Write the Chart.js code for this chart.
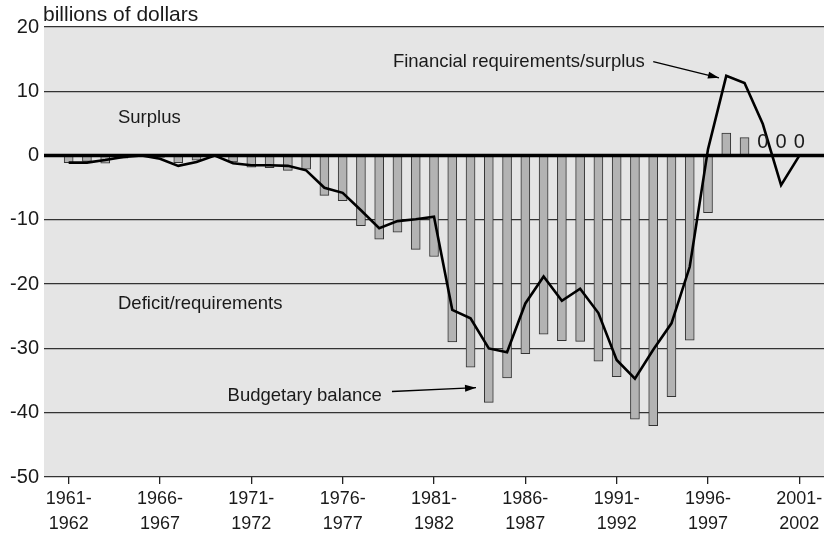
<!DOCTYPE html>
<html lang="en">
<head>
    <meta charset="UTF-8">
    <title>Budgetary balance and financial requirements</title>
    <style>
        html, body { margin: 0; padding: 0; background: #fff; }
        .chart-container { width: 827px; height: 534px; }
    </style>
    <script src="https://cdn.jsdelivr.net/npm/chart.js"></script>
</head>
<body>
    <div class="chart-container">
        <canvas id="balanceChart" width="827" height="534"></canvas>
    </div>

    <script>
        // fiscal years (categories)
        const fiscalYears = [
            '1961-1962', '1962-1963', '1963-1964', '1964-1965', '1965-1966',
            '1966-1967', '1967-1968', '1968-1969', '1969-1970', '1970-1971',
            '1971-1972', '1972-1973', '1973-1974', '1974-1975', '1975-1976',
            '1976-1977', '1977-1978', '1978-1979', '1979-1980', '1980-1981',
            '1981-1982', '1982-1983', '1983-1984', '1984-1985', '1985-1986',
            '1986-1987', '1987-1988', '1988-1989', '1989-1990', '1990-1991',
            '1991-1992', '1992-1993', '1993-1994', '1994-1995', '1995-1996',
            '1996-1997', '1997-1998', '1998-1999', '1999-2000', '2000-2001',
            '2001-2002'
        ];

        // bars: budgetary balance, billions of dollars
        const budgetaryBalance = [
            -1.1, -0.9, -1.2, -0.4, -0.1, -0.3, -1.1, -0.7, 0, -1.0,
            -1.8, -1.9, -2.3, -2.1, -6.2, -7.0, -10.9, -13.0, -11.9, -14.6,
            -15.7, -29.0, -32.9, -38.4, -34.6, -30.8, -27.8, -28.8, -28.9, -32.0,
            -34.4, -41.0, -42.0, -37.5, -28.7, -8.9, 3.5, 2.8, 0, 0,
            0
        ];

        // line: financial requirements/surplus
        const financialRequirements = [
            -1.1, -1.1, -0.7, -0.2, 0, -0.5, -1.6, -1.0, 0, -1.2,
            -1.5, -1.5, -1.6, -2.3, -5.0, -5.8, -8.5, -11.3, -10.2, -9.9,
            -9.5, -24.0, -25.3, -30.0, -30.6, -23.0, -18.8, -22.6, -20.7, -24.5,
            -31.8, -34.7, -30.2, -26.1, -17.3, 1.0, 12.4, 11.3, 4.9, -4.6,
            0
        ];

        // projected years whose bar value is written out
        const labelledYears = ['1999-2000', '2000-2001', '2001-2002'];

        const tickYears = ['1961-1962', '1966-1967', '1971-1972', '1976-1977', '1981-1982',
                           '1986-1987', '1991-1992', '1996-1997', '2001-2002'];
        const yTicks = [20, 10, 0, -10, -20, -30, -40, -50];

        const fontFamily = "'Liberation Sans', Arial, Helvetica, sans-serif";
        Chart.defaults.font.family = fontFamily;
        Chart.defaults.color = '#1a1a1a';

        // text notes placed in data units
        const notes = [
            { text: 'Surplus', x: 2.7, y: 5.9 },
            { text: 'Deficit/requirements', x: 2.7, y: -23.0 },
            { text: 'Budgetary balance', x: 8.7, y: -37.4, from: [17.7, -36.7], to: [22.3, -36.1] },
            { text: 'Financial requirements/surplus', x: 17.75, y: 14.5, from: [32.0, 14.6], to: [35.6, 12.1] }
        ];

        function drawArrow(ctx, x1, y1, x2, y2) {
            ctx.beginPath();
            ctx.moveTo(x1, y1);
            ctx.lineTo(x2, y2);
            ctx.stroke();
            const a = Math.atan2(y2 - y1, x2 - x1);
            const len = 11, w = 3.5;
            ctx.beginPath();
            ctx.moveTo(x2, y2);
            ctx.lineTo(x2 - len * Math.cos(a) + w * Math.sin(a), y2 - len * Math.sin(a) - w * Math.cos(a));
            ctx.lineTo(x2 - len * Math.cos(a) - w * Math.sin(a), y2 - len * Math.sin(a) + w * Math.cos(a));
            ctx.closePath();
            ctx.fill();
        }

        const plotBackground = {
            id: 'plotBackground',
            beforeDraw(chart) {
                const { ctx, chartArea: a } = chart;
                ctx.save();
                ctx.fillStyle = '#e5e5e5';
                ctx.fillRect(a.left, a.top, a.right - a.left, a.bottom - a.top);
                ctx.restore();
            }
        };

        const overlay = {
            id: 'overlay',
            afterDatasetsDraw(chart) {
                const { ctx, chartArea: a, scales: { x, y } } = chart;
                ctx.save();

                // heavy zero line
                const y0 = y.getPixelForValue(0);
                ctx.strokeStyle = '#000';
                ctx.lineWidth = 3.5;
                ctx.beginPath();
                ctx.moveTo(a.left, y0);
                ctx.lineTo(a.right, y0);
                ctx.stroke();

                // "0" labels for projected years
                ctx.fillStyle = '#1a1a1a';
                ctx.font = '20px ' + fontFamily;
                ctx.textAlign = 'center';
                ctx.textBaseline = 'bottom';
                labelledYears.forEach(yr => {
                    const i = fiscalYears.indexOf(yr);
                    ctx.fillText(String(budgetaryBalance[i]), x.getPixelForValue(i), y0 - 3);
                });

                // unit title
                ctx.font = '21px ' + fontFamily;
                ctx.textAlign = 'left';
                ctx.textBaseline = 'alphabetic';
                ctx.fillText('billions of dollars', a.left - 1, a.top - 6);

                // notes and arrows
                ctx.font = '18.5px ' + fontFamily;
                ctx.textBaseline = 'middle';
                ctx.strokeStyle = '#000';
                ctx.lineWidth = 1.3;
                notes.forEach(n => {
                    ctx.fillStyle = '#1a1a1a';
                    ctx.fillText(n.text, x.getPixelForValue(n.x), y.getPixelForValue(n.y));
                    if (n.from) {
                        ctx.fillStyle = '#000';
                        drawArrow(ctx,
                            x.getPixelForValue(n.from[0]), y.getPixelForValue(n.from[1]),
                            x.getPixelForValue(n.to[0]), y.getPixelForValue(n.to[1]));
                    }
                });
                ctx.restore();
            }
        };

        const ctx = document.getElementById('balanceChart').getContext('2d');
        new Chart(ctx, {
            type: 'bar',
            data: {
                datasets: [
                    {
                        type: 'line',
                        label: 'Financial requirements/surplus',
                        data: financialRequirements.map((v, i) => ({ x: i, y: v })),
                        borderColor: '#000',
                        borderWidth: 2.6,
                        pointRadius: 0,
                        tension: 0,
                        order: 0
                    },
                    {
                        type: 'bar',
                        label: 'Budgetary balance',
                        data: budgetaryBalance.map((v, i) => ({ x: i, y: v })),
                        backgroundColor: '#b3b3b3',
                        borderColor: '#333',
                        borderWidth: 1,
                        barThickness: 9,
                        order: 1
                    }
                ]
            },
            options: {
                responsive: false,
                animation: false,
                layout: { padding: { top: 27, right: 3, left: 0, bottom: 0 } },
                plugins: {
                    legend: { display: false },
                    tooltip: { enabled: false }
                },
                scales: {
                    x: {
                        type: 'linear',
                        offset: false,
                        min: -1.35,
                        max: 41.35,
                        afterFit: s => { s.height = 57; },
                        afterBuildTicks: s => {
                            s.ticks = tickYears.map(t => ({ value: fiscalYears.indexOf(t) }));
                        },
                        ticks: {
                            autoSkip: false,
                            maxRotation: 0,
                            padding: 2,
                            font: { size: 18, lineHeight: 1.4 },
                            callback: v => {
                                const parts = fiscalYears[v].split('-');
                                return [parts[0] + '-', parts[1]];
                            }
                        },
                        grid: {
                            offset: false,
                            drawOnChartArea: false,
                            drawTicks: true,
                            tickLength: 7,
                            color: '#222',
                            lineWidth: 1.3
                        },
                        border: { display: false }
                    },
                    y: {
                        min: Math.min(...yTicks),
                        max: Math.max(...yTicks),
                        afterFit: s => { s.width = 44; },
                        ticks: {
                            stepSize: 10,
                            padding: 5,
                            font: { size: 20 }
                        },
                        grid: {
                            drawTicks: false,
                            color: '#333',
                            lineWidth: 1.3
                        },
                        border: { display: false }
                    }
                }
            },
            plugins: [plotBackground, overlay]
        });
    </script>
</body>
</html>
